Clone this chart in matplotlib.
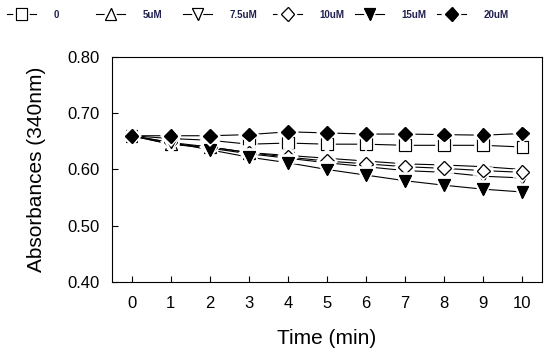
import numpy as np
import matplotlib
matplotlib.use('Agg')
import matplotlib.pyplot as plt
import matplotlib.patheffects as pe
from matplotlib.legend_handler import HandlerTuple

plt.rcParams['font.family'] = ['Liberation Sans', 'DejaVu Sans']

# Data
time_min = [0, 1, 2, 3, 4, 5, 6, 7, 8, 9, 10]
labels = ['0', '5uM', '7.5uM', '10uM', '15uM', '20uM']
abs_0 = [0.660, 0.655, 0.652, 0.645, 0.647, 0.645, 0.645, 0.643, 0.643, 0.643, 0.640]
abs_5 = [0.660, 0.645, 0.640, 0.630, 0.625, 0.620, 0.615, 0.610, 0.608, 0.605, 0.600]
abs_75 = [0.660, 0.645, 0.638, 0.628, 0.620, 0.612, 0.605, 0.598, 0.595, 0.588, 0.585]
abs_10 = [0.660, 0.648, 0.640, 0.630, 0.622, 0.615, 0.610, 0.605, 0.602, 0.598, 0.595]
abs_15 = [0.660, 0.648, 0.635, 0.622, 0.612, 0.600, 0.590, 0.580, 0.572, 0.565, 0.560]
abs_20 = [0.660, 0.660, 0.660, 0.662, 0.667, 0.665, 0.663, 0.663, 0.662, 0.661, 0.664]

series = [abs_0, abs_5, abs_75, abs_10, abs_15, abs_20]
markers = ['s', '^', 'v', 'D', 'v', 'D']
faces = ['white', 'white', 'white', 'white', 'black', 'black']
msizes = [8.5, 8.5, 8.5, 7, 8.5, 7]

fig = plt.figure(figsize=(5.5, 3.54), dpi=100)
ax = fig.add_axes([0.2036, 0.2034, 0.7819, 0.6356])

# white halo round markers so the lines stop short of them
halo = [pe.withStroke(linewidth=4, foreground='white'), pe.Normal()]
handles = []
for vals, mk, fc, ms, lab in zip(series, markers, faces, msizes, labels):
    ln, = ax.plot(time_min, vals, color='black', lw=0.8, zorder=2)
    mk_h, = ax.plot(time_min, vals, ls='none', marker=mk, ms=ms, mfc=fc,
                    mec='black', mew=0.8, zorder=3, path_effects=halo)
    handles.append((ln, mk_h))

ax.set_xlim(-0.5, 10.5)
ax.set_ylim(0.40, 0.80)
ax.set_xticks(time_min)
ax.set_yticks([0.40, 0.50, 0.60, 0.70, 0.80])
ax.set_yticklabels(['0.40', '0.50', '0.60', '0.70', '0.80'])
ax.tick_params(direction='in', length=4, width=0.8, labelsize=12, pad=9)
ax.tick_params(axis='x', pad=10)
for sp in ax.spines.values():
    sp.set_linewidth(0.8)

ax.set_xlabel('Time (min)', fontsize=15, labelpad=13)
ax.set_ylabel('Absorbances (340nm)', fontsize=15, labelpad=15)

# legend entries placed one by one along the top
leg_x = [7, 96, 183, 273, 355, 437]
for h, lab, x0 in zip(handles, labels, leg_x):
    leg = fig.legend(handles=[h], labels=[lab], loc='upper left',
                     bbox_to_anchor=(x0 / 550, 0.973), frameon=False,
                     handlelength=3.0, handletextpad=1.8, borderpad=0,
                     borderaxespad=0, fontsize=7,
                     handler_map={tuple: HandlerTuple(ndivide=1)})
    for t in leg.get_texts():
        t.set_color('#202050')
        t.set_fontweight('bold')

fig.savefig('out.png', dpi=100)
